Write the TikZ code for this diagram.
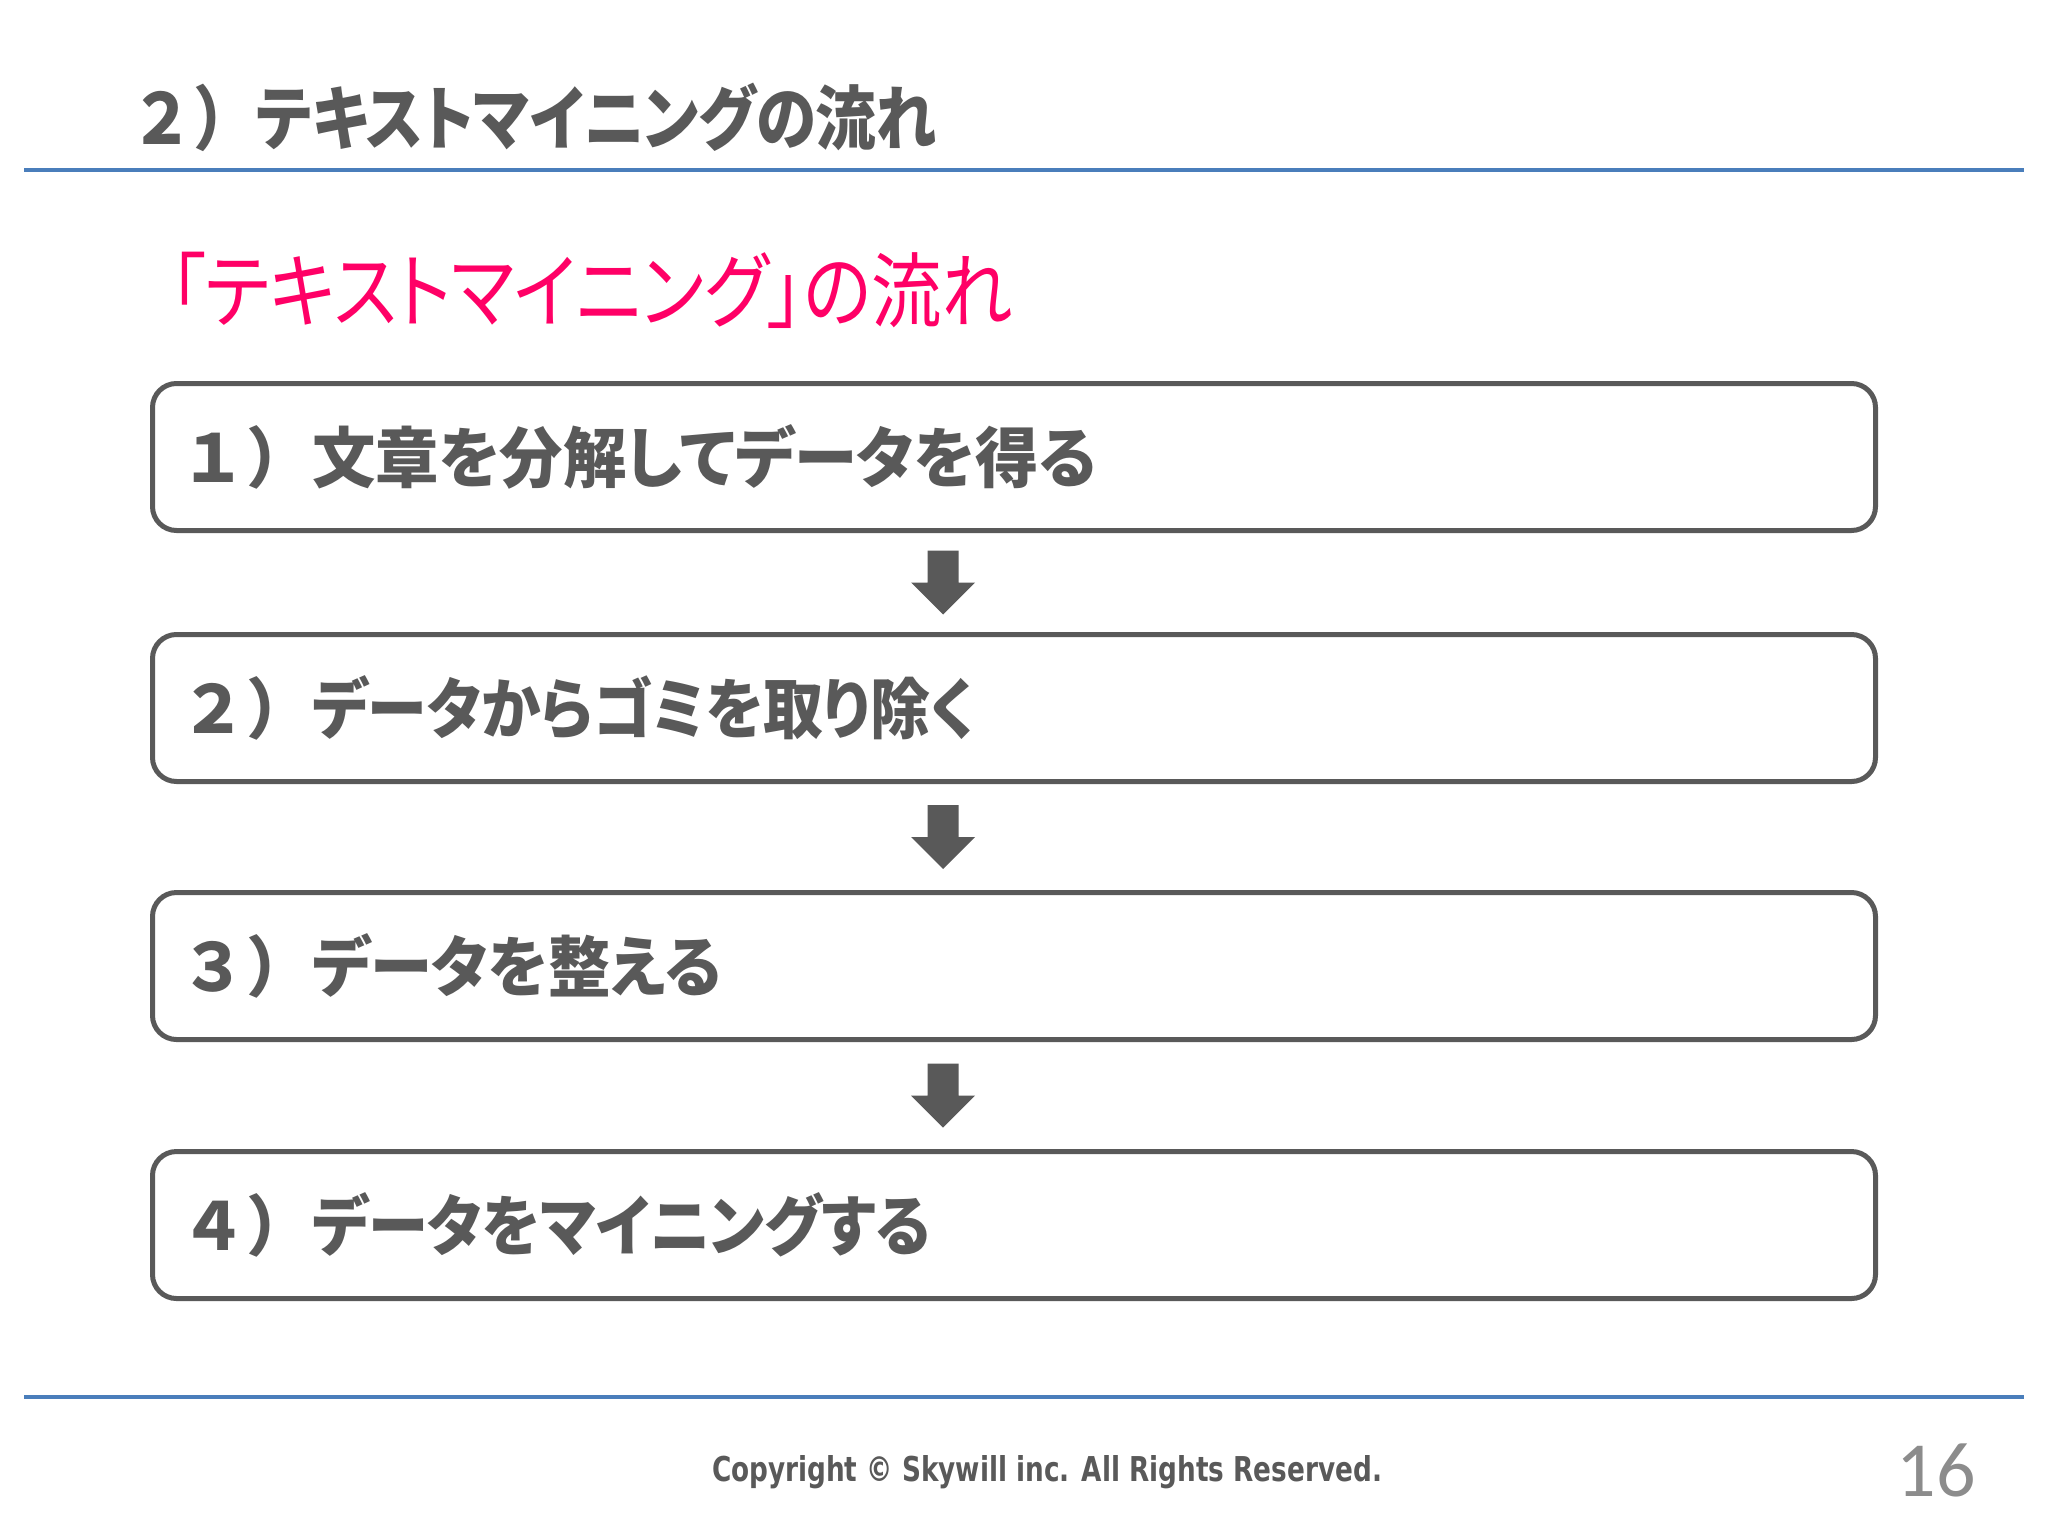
\documentclass[tikz,border=0pt]{standalone}
\usepackage{fontspec}
\usetikzlibrary{calc}
\newfontfamily\jp{Noto Sans CJK JP}[RawFeature=+palt]
\newfontfamily\jpf{Noto Sans CJK JP}
\newfontfamily\copyfont{DejaVu Sans}
\newfontfamily\pagenofont{Carlito}
\definecolor{tgray}{HTML}{595959}
\definecolor{rulecol}{HTML}{4A7EBB}
\definecolor{accent}{HTML}{FF0066}
\definecolor{pnum}{HTML}{8C8C8C}
\newcommand{\stepsq}[3]{{\jpf #2}\scalebox{#1}[1]{#3}}
\begin{document}
\begin{tikzpicture}[x=0.5pt,y=-0.5pt,
  flowbox/.style={draw=tgray, line width=2.5pt, rounded corners=12pt, minimum width=861.5pt, minimum height=73.5pt, fill=white, inner sep=0pt},
  steptext/.style={anchor=west, inner sep=0pt, text=tgray, font=\jp\bfseries\fontsize{33}{40}\selectfont},
  rule/.style={draw=rulecol, line width=2pt},
  blockarrow/.style={fill=tgray}]
\useasboundingbox (0,0) rectangle (2048,1536);
\fill[white] (0,0) rectangle (2048,1536);

\node[anchor=west, inner sep=0pt, text=tgray, font=\jp\bfseries\fontsize{35}{42}\selectfont] (title) at (130,117) {\scalebox{0.9}[1]{\jpf ２）}\scalebox{0.865}[1]{テキストマイニングの流れ}};
\coordinate (r1a) at (24,170);
\coordinate (r1b) at (2024,170);
\draw[rule] (r1a) -- (r1b);

\node[anchor=west, inner sep=0pt, text=accent, font=\jp\fontsize{41}{48}\selectfont] (sub) at (170,290) {\scalebox{0.86}[1]{「テキストマイニング」の流れ}};

\node[flowbox] (b1) at (1014,457) {};
\node[flowbox] (b2) at (1014,708) {};
\node[flowbox] (b3) at (1014,966) {};
\node[flowbox] (b4) at (1014,1225) {};

\node[steptext] (t1) at (180,457) {\stepsq{0.96}{１）}{文章を分解してデータを得る}};
\node[steptext] (t2) at (180,708) {\stepsq{0.907}{２）}{データからゴミを取り除く}};
\node[steptext] (t3) at (180,966) {\stepsq{0.945}{３）}{データを整える}};
\node[steptext] (t4) at (180,1225) {\stepsq{0.913}{４）}{データをマイニングする}};

\coordinate (ax) at (943,0);
\foreach \a/\b [count=\i] in {b1/b2,b2/b3,b3/b4} {
  \coordinate (g\i) at ($(\a.south)!0.5!(\b.north)$);
  \coordinate (m\i) at (g\i -| ax);
  \fill[blockarrow] ([xshift=-7.75pt,yshift=16pt]m\i) -- ([xshift=7.75pt,yshift=16pt]m\i) -- ([xshift=7.75pt]m\i) -- ([xshift=16pt]m\i) -- ([yshift=-16pt]m\i) -- ([xshift=-16pt]m\i) -- ([xshift=-7.75pt]m\i) -- cycle;
}

\coordinate (r2a) at (24,1397);
\coordinate (r2b) at (2024,1397);
\draw[rule] (r2a) -- (r2b);

\node[inner sep=0pt, text=tgray, font=\copyfont\bfseries\fontsize{16}{19}\selectfont] (copy) at (1047,1472) {\resizebox{335pt}{13pt}{Copyright © Skywill inc. All Rights Reserved.}};
\node[inner sep=0pt, text=pnum, font=\pagenofont\fontsize{39}{46}\selectfont] (pg) at (1936,1470) {16};
\end{tikzpicture}
\end{document}
